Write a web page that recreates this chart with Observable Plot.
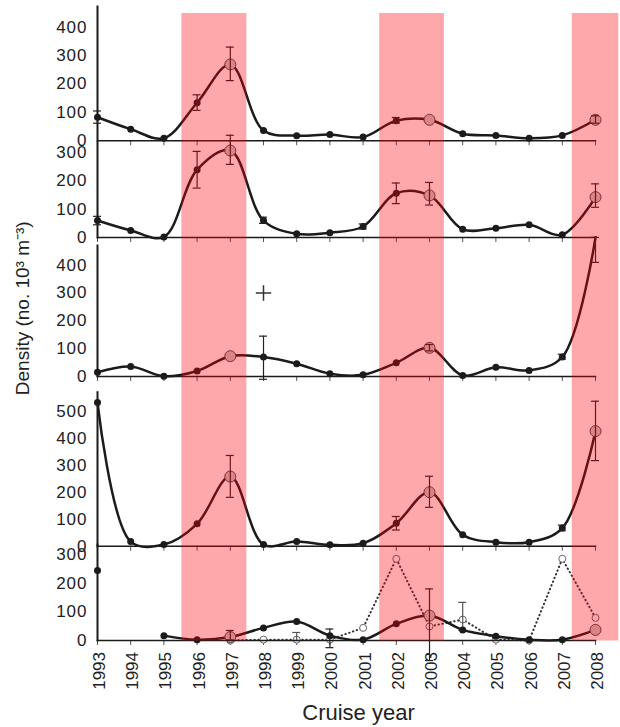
<!DOCTYPE html>
<html>
<head>
<meta charset="utf-8">
<script src="https://cdn.jsdelivr.net/npm/d3@7"></script>
<script src="https://cdn.jsdelivr.net/npm/@observablehq/plot@0.6"></script>
<style>
  body { margin: 0; background: #fff; }
  #wrap { position: relative; width: 620px; height: 727px; }
  #wrap svg { position: absolute; left: 0; top: 0; }
</style>
</head>
<body>
<div id="wrap"></div>
<script>
// ---------- data ----------
const years = [1993,1994,1995,1996,1997,1998,1999,2000,2001,2002,2003,2004,2005,2006,2007,2008];

const p1 = [83, 41, 9, 134, 269, 36, 18, 22, 13, 71, 74, 25, 19, 9, 19, 74];
const p1Err = [[1993,62,105],[1996,107,162],[1997,212,330],[2002,62,82],[2008,62,88]];
const p1Peaks = [1997, 2003, 2008];
const p1Ticks = [0,100,200,300,400];

const p2 = [60, 25, 2, 240, 308, 60, 13, 17, 39, 157, 149, 29, 33, 45, 10, 143];
const p2Err = [[1993,45,75],[1996,175,305],[1997,259,362],[1998,50,72],[2001,30,48],[2002,120,193],[2003,115,195],[2008,107,190]];
const p2Peaks = [1997, 2003, 2008];
const p2Ticks = [0,100,200,300];

const p3 = [15, 36, 1, 20, 73, 70, 46, 10, 6, 49, 103, 4, 33, 22, 70, 500];
const p3Err = [[1998,-10,145],[2003,92,115],[2007,62,80],[2008,410,500]];
const p3Peaks = [1997, 2003];
const p3Ticks = [0,100,200,300,400];
const p3Outlier = [[1998, 300]];

const p4 = [532, 17, 6, 83, 258, 6, 17, 5, 11, 85, 200, 42, 15, 15, 67, 426];
const p4Err = [[1997,181,336],[2002,60,110],[2003,144,259],[2007,57,78],[2008,317,537]];
const p4Peaks = [1997, 2003, 2008];
const p4Ticks = [0,100,200,300,400,500];

const p5 = [244, null, 17, 3, 12, 44, 66, 17, 3, 58, 87, 37, 15, 3, 3, 37];
const p5Err = [[1997,2,35],[2000,-25,40],[2003,-70,180]];
const p5Peaks = [1997, 2003, 2008];
const p5Dotted = [null, null, null, null, 0, 3, 3, 3, 44, 285, 49, 73, 3, 0, 285, 79];
const p5DottedErr = [[1999,0,28],[2004,35,133]];
const p5Ticks = [0,100,200,300];

const bands = [[1995.54, 1997.5], [2001.5, 2003.45], [2007.3, 2008.7]];

const yLabel = "Density (no. 10³ m⁻³)";
const xLabel = "Cruise year";

// ---------- drawing ----------
const FONT = "'Liberation Sans', Arial, Helvetica, sans-serif";
const INK = "#1b1b1b";
const wrap = document.getElementById("wrap");

function rows(vals) { return years.map((yr, i) => ({yr, v: vals[i]})); }
function errRows(err) { return err.map(([yr, lo, hi]) => ({yr, lo, hi})); }

function errMarks(err, stroke) {
  const e = errRows(err);
  return [
    Plot.ruleX(e, {x: "yr", y1: "lo", y2: "hi", stroke, strokeWidth: 1.2}),
    Plot.ruleY(e, {y: "hi", x1: d => d.yr - 0.12, x2: d => d.yr + 0.12, stroke, strokeWidth: 1.2}),
    Plot.ruleY(e, {y: "lo", x1: d => d.yr - 0.12, x2: d => d.yr + 0.12, stroke, strokeWidth: 1.2})
  ];
}

function panel({vals, err, peaks, ticks, top, zero, yTop, extra = []}) {
  const data = rows(vals).filter(d => d.v != null && d.v <= yTop);
  return Plot.plot({
    width: 620, height: 727,
    marginLeft: 97, marginRight: 25, marginTop: top, marginBottom: 727 - zero,
    style: {background: "transparent", overflow: "visible", fontFamily: FONT, fontSize: "17px", letterSpacing: "1px", color: "#222"},
    x: {domain: [1993, 2008], axis: null},
    y: {domain: [0, yTop], axis: null},
    marks: [
      Plot.axisX({ticks: years, tickFormat: () => "", tickSize: 5, anchor: "bottom", label: null, stroke: "#555"}),
      Plot.axisY({ticks, tickSize: 0, tickPadding: 10, anchor: "left", label: null, tickFormat: "d", fill: "#222"}),
      ...extra,
      Plot.line(rows(vals), {x: "yr", y: "v", curve: "catmull-rom", stroke: INK, strokeWidth: 2.5}),
      Plot.dot(data.filter(d => !peaks.includes(d.yr)), {x: "yr", y: "v", r: 3.5, fill: INK}),
      Plot.dot(data.filter(d => peaks.includes(d.yr)), {x: "yr", y: "v", r: 5.5, fill: "#c9c9c9", stroke: "#444", strokeWidth: 1}),
      ...errMarks(err, "#222"),
      Plot.frame({anchor: "left", stroke: INK, strokeWidth: 2}),
      Plot.frame({anchor: "bottom", stroke: INK, strokeWidth: 1.5})
    ]
  });
}

const panels = [
  panel({vals: p1, err: p1Err, peaks: p1Peaks, ticks: p1Ticks, top: 6, zero: 140.3, yTop: 473}),
  panel({vals: p2, err: p2Err, peaks: p2Peaks, ticks: p2Ticks, top: 142, zero: 237, yTop: 336.5}),
  panel({vals: p3, err: p3Err, peaks: p3Peaks, ticks: p3Ticks, top: 245, zero: 376, yTop: 470.7,
         extra: [Plot.dot(p3Outlier.map(([yr, v]) => ({yr, v})), {x: "yr", y: "v", symbol: "plus", r: 5, stroke: "#333", strokeWidth: 1.5})]}),
  panel({vals: p4, err: p4Err, peaks: p4Peaks, ticks: p4Ticks, top: 391.7, zero: 545.7, yTop: 570.4}),
  panel({vals: p5, err: p5Err, peaks: p5Peaks, ticks: p5Ticks, top: 544, zero: 640, yTop: 334.9,
         extra: [
           Plot.line(rows(p5Dotted), {x: "yr", y: "v", stroke: "#333", strokeWidth: 2, strokeDasharray: "0.5,3.5", strokeLinecap: "round"}),
           Plot.dot(rows(p5Dotted).filter(d => d.v != null), {x: "yr", y: "v", r: 3.5, fill: "white", stroke: "#666", strokeWidth: 1}),
           ...errMarks(p5DottedErr, "#555")
         ]})
];
panels.forEach(p => wrap.appendChild(p));

// overlay: shaded periods, x axis labels, titles
const overlay = Plot.plot({
  width: 620, height: 727,
  marginLeft: 97, marginRight: 25, marginTop: 13, marginBottom: 86.5,
  style: {background: "transparent", overflow: "visible", fontFamily: FONT, fontSize: "17px", color: "#222"},
  x: {domain: [1993, 2008], axis: null},
  y: {domain: [0, 1], axis: null},
  marks: [
    Plot.rect(bands, {x1: d => d[0], x2: d => d[1], fill: "rgb(255,0,10)", fillOpacity: 0.34}),
    Plot.axisX({ticks: years, tickFormat: "d", tickRotate: -90, tickSize: 0, tickPadding: 11, anchor: "bottom", label: null, fill: "#222", dx: 2}),
    Plot.text([yLabel], {frameAnchor: "left", rotate: -90, dx: -75, dy: -19, fontSize: 19, letterSpacing: "0.6px", textAnchor: "middle", lineAnchor: "middle", fill: "#222"}),
    Plot.text([xLabel], {frameAnchor: "bottom", dx: 12, dy: 72, fontSize: 22, textAnchor: "middle", lineAnchor: "middle", fill: "#222"})
  ]
});
wrap.appendChild(overlay);
</script>
</body>
</html>
